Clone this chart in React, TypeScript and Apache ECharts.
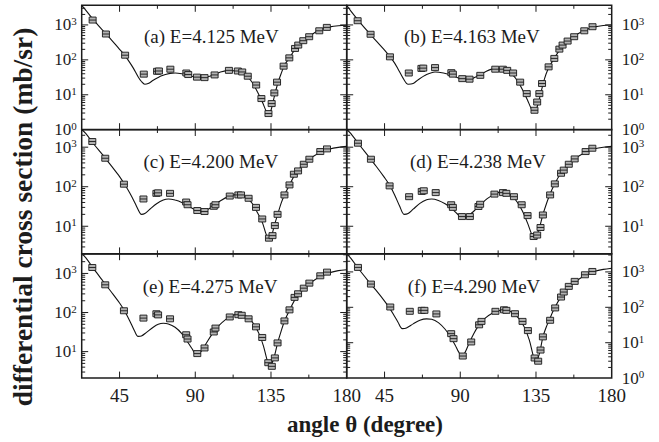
import React, { useEffect, useRef } from 'react';
import * as echarts from 'echarts';

const FONT = "'Liberation Serif', 'Times New Roman', Times, serif";

// ---------- data ----------
const panelLabels = ['(a) E=4.125 MeV', '(b) E=4.163 MeV', '(c) E=4.200 MeV', '(d) E=4.238 MeV', '(e) E=4.275 MeV', '(f) E=4.290 MeV'];

const xTickLabels = [45, 90, 135, 180];
const xMajorTicks = [45, 90, 135];
const xMinorTicks = [67.5, 112.5, 157.5];
const yDecades = [1, 10, 100, 1000];
const yMinorMultipliers = [2, 3, 4, 5, 6, 7, 8, 9];

const yMinList = [1, 1, 2.0, 2.0, 2.1, 1];
const yMaxList = [3650, 3650, 2800, 2800, 3200, 3270];

const curveA: [number, number][] = [[22.5,3650],[25,2600],[30,1300],[35,700],[40,380],[45,200],[48,138],[50,100],[53,60],[56,33],[58,24],[60,20],[62,21],[65,26],[70,35],[75,41],[78,42],[82,40],[86,36],[90,32],[95,31],[100,36],[105,45],[110,50],[114,48],[118,43],[121,33],[124,22],[127,12],[130,6],[132,3.5],[133.5,2.6],[135,3.6],[137,9],[139,21],[141,40],[143,70],[146,115],[150,220],[155,380],[160,560],[165,760],[170,880],[175,950],[180,980]];
const pointsA: [number, number][] = [[29.0,1380],[36.9,550],[48.3,136],[59.4,39],[67.3,47],[68.4,48],[75.2,54],[84.7,42],[85.8,38],[91,32],[95.5,31],[101.5,37],[110,50],[115.3,48],[117.9,45],[121.2,34],[126.2,19],[129.3,7.8],[133.5,2.9],[135.4,5.6],[137,11.3],[138.6,23],[142.5,66],[145.9,114],[149.3,212],[151.2,265],[154.2,354],[157.7,460],[163.7,680],[168.2,850]];

const curveB: [number, number][] = [[22.5,3650],[25,2500],[30,1250],[35,650],[40,350],[45,190],[50,95],[53,55],[56,30],[59,20],[62,21],[65,27],[70,38],[75,45],[80,42],[85,36],[90,29],[95,27],[100,34],[105,46],[110,55],[114,55],[118,47],[121,38],[124,25],[127,14],[130,7],[132,4.2],[134,3.2],[136,5],[138,12],[140,28],[142,52],[145,95],[150,220],[155,390],[160,560],[165,740],[170,880],[175,960],[180,1000]];
const pointsB: [number, number][] = [[29.0,1320],[36.7,540],[48.2,122],[59.4,42],[66.9,57],[68,58],[75,60],[84.7,43],[85.6,39],[91.2,29],[95.5,28],[101.9,36],[110.8,54],[115.3,54],[117.9,50],[121.4,42],[125.6,23],[129.5,10.8],[134.1,3.6],[135.7,6.2],[137,10.8],[138.6,21],[142.5,63],[145.9,110],[148.9,203],[150.8,265],[153.8,345],[157.7,460],[163.7,680],[168.6,890]];

const curveC: [number, number][] = [[22.5,2800],[25,2200],[30,1150],[35,640],[40,340],[45,180],[48,115],[51,70],[54,40],[57,22],[58,20],[60,21],[63,27],[67,37],[71,46],[74,49],[78,46],[82,40],[86,32],[90,26],[93,23.6],[97,26],[101,33],[105,44],[110,57],[114,63],[118,60],[121,51],[124,37],[127,22],[130,12],[132,6.5],[133.8,4.4],[135.5,6],[137,10.5],[139,20],[141,38],[143,62],[146,110],[150,230],[155,390],[160,580],[165,760],[170,900],[175,990],[180,1050]];
const pointsC: [number, number][] = [[28.8,1390],[36.5,525],[47.6,116],[59.2,49],[66.9,68],[67.9,70],[75,68],[84.6,41],[85.4,35],[91.2,25],[95.5,23.6],[101,32],[102,35],[110.5,58],[115.6,62],[117.2,62],[121.7,51],[126.1,30],[129.8,15.3],[133.8,5.0],[135.9,5.8],[137.3,10.4],[138.9,20],[143,62],[146,111],[148.6,207],[151.1,251],[154.5,370],[157.8,496],[164.3,776],[168.3,905]];

const curveD: [number, number][] = [[22.5,2800],[25,2200],[30,1150],[35,620],[40,330],[45,170],[48,110],[51,62],[54,32],[56.6,20],[59,21],[62,27],[66,38],[70,47],[73,49],[77,45],[81,37],[85,28],[88,21],[91,16.6],[94,17.5],[98,24],[102,35],[106,50],[110,64],[114,73],[118,70],[121,58],[124,40],[127,24],[130,12],[132,7],[133.6,5],[135.5,6.2],[137,9],[139,19],[141,35],[143,60],[146,115],[150,225],[155,390],[160,580],[165,760],[170,910],[175,1000],[180,1050]];
const pointsD: [number, number][] = [[29.2,1260],[36.9,496],[48,105],[59.6,56],[67.1,76],[68.3,79],[75.4,71],[84.6,35],[85.6,30],[91,17.6],[95.7,17.6],[100.8,31.6],[101.8,36],[110.3,65],[115.4,71],[117.4,68],[121.9,56],[126.5,35],[130,18.6],[133.6,5.5],[135.7,6.0],[137.7,9.3],[139.1,19.3],[143.4,62],[146.2,118],[149.9,219],[151.5,263],[154.5,370],[158,505],[164.5,776],[168.5,940]];

const curveE: [number, number][] = [[22.5,3200],[25,2500],[30,1250],[35,650],[40,340],[45,175],[48,110],[51,62],[54,33],[56,24.5],[58,25],[61,31],[65,42],[68,50],[71,53],[74,51],[78,42],[82,29],[85,19],[88,12],[90.8,8.3],[93,9.5],[96,15],[100,28],[104,46],[108,66],[112,84],[116,91],[119,87],[122,71],[125,49],[128,28],[130.5,14],[132.5,6.5],[134,4.3],[135.5,5],[137,7.5],[139,17],[141,33],[143,60],[146,115],[150,240],[155,420],[160,640],[165,860],[170,1050],[175,1180],[180,1240]];
const pointsE: [number, number][] = [[28.8,1420],[36.5,512],[47.6,111],[59.2,72],[66.9,93],[67.9,87],[75,69],[84.6,27],[85.4,21],[91.2,8.9],[95.5,12.4],[101,31.8],[102,40],[110.5,77],[115.6,88],[117.6,85],[121.7,69],[126.1,43],[129.8,23],[133.4,5.2],[135.5,4.2],[137.3,6.9],[138.9,16.7],[143,61],[146,117],[149,244],[151.1,302],[154.5,420],[157.8,565],[164.3,870],[168.3,1080]];

const curveF: [number, number][] = [[22.5,3270],[25,2400],[30,1150],[35,580],[40,300],[45,150],[48,95],[51,55],[53,38],[55.5,25],[58,26],[62,34],[66,43],[70,47],[73,46],[77,37],[81,24],[84,15],[87,8.5],[89,5.5],[91,4.2],[93,5.5],[95,9],[98,18],[101,31],[105,50],[109,68],[113,80],[116,85],[119,80],[122,67],[125,47],[128,28],[131,12],[133,5],[134.6,2.7],[136,3.5],[137.5,6],[139,14],[141,27],[143,45],[146,95],[150,200],[155,390],[160,600],[165,850],[170,1050],[175,1180],[180,1270]];
const pointsF: [number, number][] = [[29.2,1340],[36.9,453],[48.4,102],[60,77],[67.1,82],[68.7,82],[75.8,65],[84.6,18],[86,13],[91.5,4.2],[96.5,10.5],[101.2,32],[102.6,40],[110.9,77],[116,85],[117.4,82],[122.5,66],[127,40],[130.2,22],[134.2,3.7],[136.3,3.0],[137.7,6.2],[139.1,14.6],[143.4,43],[146.4,96],[149.9,195],[151.5,270],[154.5,390],[158,540],[164.1,830],[168.5,1030]];

const curves = [curveA, curveB, curveC, curveD, curveE, curveF];
const points = [pointsA, pointsB, pointsC, pointsD, pointsE, pointsF];

// ---------- layout ----------
const colLeft = [81.7, 346.7];
const colWidth = 265;
const rowTop = [5.3, 129.5, 253.7];
const rowHeight = 124.4;
const labelPos: [number, number][] = [[144, 36.5], [404, 36.5], [143.4, 161.5], [410, 161.5], [142.7, 286.3], [407.7, 286.3]];

const INK = '#1c1c1c';

function makeTickRenderer(ymin: number, ymax: number) {
  return (params: any, api: any) => {
    const cs = params.coordSys;
    const y0 = cs.y;
    const y1 = cs.y + cs.height;
    const x0 = cs.x;
    const x1 = cs.x + cs.width;
    const ch: any[] = [];
    const ln = (ax: number, ay: number, bx: number, by: number) => ({
      type: 'line',
      shape: { x1: ax, y1: ay, x2: bx, y2: by },
      style: { stroke: INK, lineWidth: 1 },
    });
    const MAJ = 6.5;
    const MIN = 3.5;
    xMajorTicks.forEach((v) => {
      const px = api.coord([v, 10])[0];
      ch.push(ln(px, y1, px, y1 - MAJ), ln(px, y0, px, y0 + MAJ));
    });
    xMinorTicks.forEach((v) => {
      const px = api.coord([v, 10])[0];
      ch.push(ln(px, y1, px, y1 - MIN), ln(px, y0, px, y0 + MIN));
    });
    yDecades.forEach((d) => {
      if (d > ymin * 1.0001 && d < ymax) {
        const py = api.coord([45, d])[1];
        ch.push(ln(x0, py, x0 + MAJ, py), ln(x1, py, x1 - MAJ, py));
      }
      yMinorMultipliers.forEach((m) => {
        const v = d * m;
        if (v > ymin && v < ymax) {
          const py = api.coord([45, v])[1];
          ch.push(ln(x0, py, x0 + MIN, py), ln(x1, py, x1 - MIN, py));
        }
      });
    });
    return { type: 'group', children: ch };
  };
}

function yLabelFormatter(v: number) {
  const e = Math.log10(v);
  const r = Math.round(e);
  if (Math.abs(e - r) > 1e-6) return '';
  return '{b|10}{s|' + r + '}';
}

export default function App() {
  const ref = useRef<HTMLDivElement>(null);
  useEffect(() => {
    if (!ref.current) return;
    const chart = echarts.init(ref.current, undefined, { renderer: 'svg' });
    const grids: any[] = [];
    const xAxes: any[] = [];
    const yAxes: any[] = [];
    const series: any[] = [];
    const graphics: any[] = [];
    for (let i = 0; i < 6; i++) {
      const col = i % 2;
      const row = Math.floor(i / 2);
      grids.push({
        left: colLeft[col], top: rowTop[row], width: colWidth, height: rowHeight,
        show: true, borderColor: INK, borderWidth: 1.5, backgroundColor: 'transparent',
        containLabel: false, outerBoundsMode: 'none',
      });
      xAxes.push({
        type: 'value', gridIndex: i, min: 22.5, max: 180, interval: 22.5,
        axisLine: { show: false }, axisTick: { show: false }, splitLine: { show: false },
        axisLabel: {
          show: row === 2, margin: 8, color: INK, fontFamily: FONT, fontSize: 19,
          formatter: (v: number) => (xTickLabels.indexOf(v) >= 0 ? String(v) : ''),
        },
      });
      yAxes.push({
        type: 'log', logBase: 10, gridIndex: i, min: yMinList[i], max: yMaxList[i],
        position: col === 0 ? 'left' : 'right',
        axisLine: { show: false }, axisTick: { show: false }, splitLine: { show: false }, minorTick: { show: false },
        axisLabel: {
          show: true, margin: col === 0 ? 5 : 10, formatter: yLabelFormatter,
          rich: {
            b: { fontFamily: FONT, fontSize: 17, color: INK, lineHeight: 13 },
            s: { fontFamily: FONT, fontSize: 11, color: INK, lineHeight: 8, padding: [0, 0, 8, 0] },
          },
        },
      });
      series.push({
        type: 'line', xAxisIndex: i, yAxisIndex: i, data: curves[i], showSymbol: false,
        smooth: 0.3, lineStyle: { color: '#111', width: 1.1 }, silent: true, z: 2, clip: true,
      });
      series.push({
        type: 'scatter', xAxisIndex: i, yAxisIndex: i, data: points[i],
        symbol: 'path://M0,0H8V7H0ZM0,3.5H8', symbolSize: [7, 6],
        itemStyle: { color: '#b3b3b3', borderColor: '#1a1a1a', borderWidth: 0.9, opacity: 1 },
        silent: true, z: 3,
      });
      series.push({
        type: 'custom', xAxisIndex: i, yAxisIndex: i, coordinateSystem: 'cartesian2d',
        data: [[100, 10]], renderItem: makeTickRenderer(yMinList[i], yMaxList[i]),
        silent: true, z: 4, clip: false,
      });
      graphics.push({
        type: 'text', x: labelPos[i][0], y: labelPos[i][1],
        style: { text: panelLabels[i], font: `19px ${FONT}`, fill: INK, textAlign: 'left', textVerticalAlign: 'middle' },
      });
    }
    graphics.push({
      type: 'text', x: 365, y: 424,
      style: { text: 'angle θ (degree)', font: `bold 23px ${FONT}`, fill: INK, textAlign: 'center', textVerticalAlign: 'middle' },
    });
    graphics.push({
      type: 'text', x: 22.5, y: 217, rotation: Math.PI / 2,
      style: { text: 'differential cross section (mb/sr)', font: `bold 27.5px ${FONT}`, fill: INK, textAlign: 'center', textVerticalAlign: 'middle' },
    });
    chart.setOption({
      animation: false,
      backgroundColor: '#ffffff',
      grid: grids,
      xAxis: xAxes,
      yAxis: yAxes,
      series,
      graphic: graphics,
    });
    return () => chart.dispose();
  }, []);
  return <div ref={ref} style={{ position: 'absolute', left: 0, top: 0, width: 659, height: 442 }} />;
}
